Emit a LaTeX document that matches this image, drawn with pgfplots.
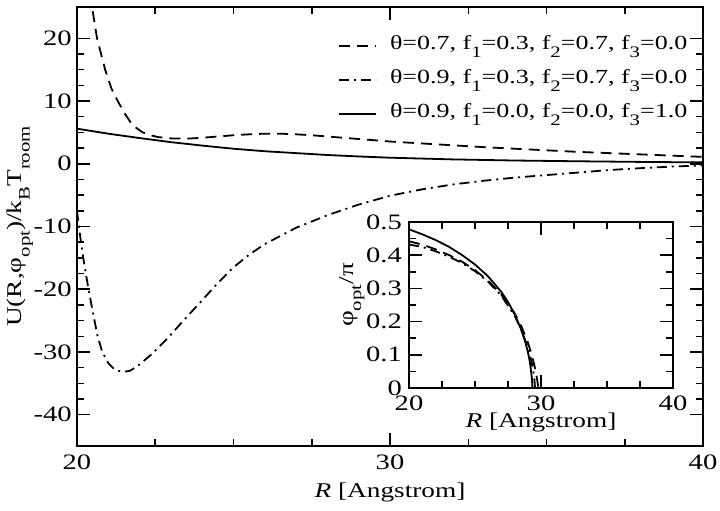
\documentclass[border=0pt]{standalone}
\usepackage{fontspec}
\setmainfont{Liberation Serif}[FakeStretch=1.3]
\usepackage{pgfplots}
\pgfplotsset{compat=1.18}
\newcommand{\sub}[1]{\raisebox{-8pt}{\fontsize{16}{16}\selectfont #1}}
\begin{document}
\fontsize{21}{25}\selectfont
\begin{tikzpicture}
\path[use as bounding box] (-77pt,-65pt) rectangle (643pt,446pt);
\pgfplotsset{
  common/.style={
    scale only axis, anchor=south west,
    tick align=inside,
    major tick length=13pt, minor tick length=7pt,
    axis line style={line width=1.8pt},
    every tick/.style={black, line width=1.5pt},
    minor x tick num=3,
    xtick={20,30,40}, xticklabels={20,30,40},
    xmin=20, xmax=40,
    tick label style={font=\fontsize{22}{26}\selectfont},
    xticklabel style={anchor=center, inner sep=0pt},
    yticklabel style={anchor=east, inner sep=0pt},
  },
  sol/.style={black, no marks, solid, line width=1.8pt},
  dsh/.style={black, no marks, line width=1.8pt, dash pattern=on 11pt off 7pt},
  ddt/.style={black, no marks, line width=1.8pt, dash pattern=on 10pt off 5pt on 2pt off 5pt},
}
\begin{axis}[common,
  at={(0pt,0pt)}, width=626pt, height=439pt,
  ymin=-45, ymax=25,
  ytick={-40,-30,-20,-10,0,10,20}, yticklabels={-40,-30,-20,-10,0,10,20},
  minor y tick num=3,
  xticklabel style={yshift=-16pt},
  yticklabel style={xshift=-5pt},
  every axis x label/.style={at={(axis description cs:0.5,0)}, anchor=center, yshift=-46pt},
  every axis y label/.style={at={(axis description cs:0,0.5)}, xshift=-57pt, anchor=center, rotate=90},
  xlabel={\textit{R} [Angstrom]},
  ylabel={U(R,φ\sub{opt})/k\sub{B}T\sub{room}},
  legend style={draw=none, fill=none, at={(258pt,413pt)}, anchor=north west,
    column sep=13pt, row sep=12pt, font=\fontsize{20}{24}\selectfont,
    nodes={inner sep=0pt, text height=14pt, text depth=8pt}},
  legend cell align=left,
  legend image code/.code={\draw[#1] (0pt,0pt) -- (37pt,0pt);},
]
\addplot[dsh] coordinates {(20.3,30)(20.48,25)(20.64,20)(20.9,15)(21.1,12)(21.28,10.2)(21.5,8.2)(21.7,6.7)(21.9,5.7)(22.1,5.0)(22.35,4.55)(22.6,4.25)(23.0,4.05)(23.5,4.0)(24.0,4.15)(24.5,4.35)(25.0,4.55)(25.5,4.7)(26.0,4.8)(26.5,4.8)(27.0,4.7)(27.5,4.55)(28.0,4.35)(29,3.95)(30,3.55)(31,3.25)(32,2.95)(33,2.65)(34,2.4)(35,2.15)(36,1.9)(37,1.7)(38,1.5)(39,1.3)(40,1.1)};
\addlegendentry{θ=0.7, f\sub{1}=0.3, f\sub{2}=0.7, f\sub{3}=0.0}
\addplot[ddt] coordinates {(20.0,-7.5)(20.1,-11.5)(20.2,-15)(20.35,-19.5)(20.5,-23.5)(20.65,-27.3)(20.8,-29.9)(21.0,-31.8)(21.2,-32.8)(21.45,-33.2)(21.7,-33.0)(22.0,-32.0)(22.4,-30.3)(22.9,-27.8)(23.4,-25)(23.9,-22.3)(24.5,-19)(25.0,-16.5)(25.5,-14.5)(26.0,-12.8)(27.0,-10.2)(28.0,-8.2)(29.0,-6.5)(30.0,-5.1)(31.0,-4.1)(32.0,-3.3)(33.0,-2.7)(34.0,-2.2)(35.0,-1.8)(36.0,-1.4)(37.0,-1.0)(38.0,-0.7)(39.0,-0.45)(40.0,-0.25)};
\addlegendentry{θ=0.9, f\sub{1}=0.3, f\sub{2}=0.7, f\sub{3}=0.0}
\addplot[sol] coordinates {(20,5.6)(21,4.8)(22,4.1)(23,3.45)(24,2.9)(25,2.4)(26,2.0)(27,1.7)(28,1.4)(29,1.17)(30,0.97)(32,0.7)(34,0.52)(36,0.4)(38,0.3)(40,0.22)};
\addlegendentry{θ=0.9, f\sub{1}=0.0, f\sub{2}=0.0, f\sub{3}=1.0}
\end{axis}
\begin{axis}[common,
  at={(332pt,58pt)}, width=264pt, height=166pt,
  ymin=0, ymax=0.5,
  ytick={0,0.1,0.2,0.3,0.4,0.5}, yticklabels={0,0.1,0.2,0.3,0.4,0.5},
  minor y tick num=1,
  axis background/.style={fill=white},
  xticklabel style={yshift=-15pt},
  yticklabel style={xshift=-7pt},
  every axis x label/.style={at={(axis description cs:0.5,0)}, anchor=center, yshift=-34pt},
  every axis y label/.style={at={(axis description cs:0,0.56)}, xshift=-57pt, anchor=center, rotate=90},
  xlabel={\textit{R} [Angstrom]},
  ylabel={φ\sub{opt}/π},
]
\addplot[dsh] coordinates {(20,0.442)(21,0.432)(22,0.418)(23,0.401)(24,0.381)(25,0.355)(26,0.323)(27,0.281)(28,0.225)(28.5,0.187)(29,0.138)(29.3,0.1)(29.5,0.068)(29.65,0.038)(29.75,0.015)(29.8,0)};
\addplot[ddt] coordinates {(20,0.432)(21,0.425)(22,0.412)(23,0.396)(24,0.377)(25,0.352)(26,0.32)(27,0.278)(28,0.218)(28.5,0.176)(29,0.122)(29.25,0.085)(29.4,0.055)(29.5,0.025)(29.55,0)};
\addplot[sol] coordinates {(20,0.478)(21,0.463)(22,0.446)(23,0.426)(24,0.401)(25,0.372)(26,0.336)(27,0.289)(27.5,0.259)(28,0.222)(28.5,0.176)(28.8,0.14)(29.0,0.11)(29.15,0.08)(29.25,0.05)(29.32,0.025)(29.35,0)};
\end{axis}
\end{tikzpicture}
\end{document}
